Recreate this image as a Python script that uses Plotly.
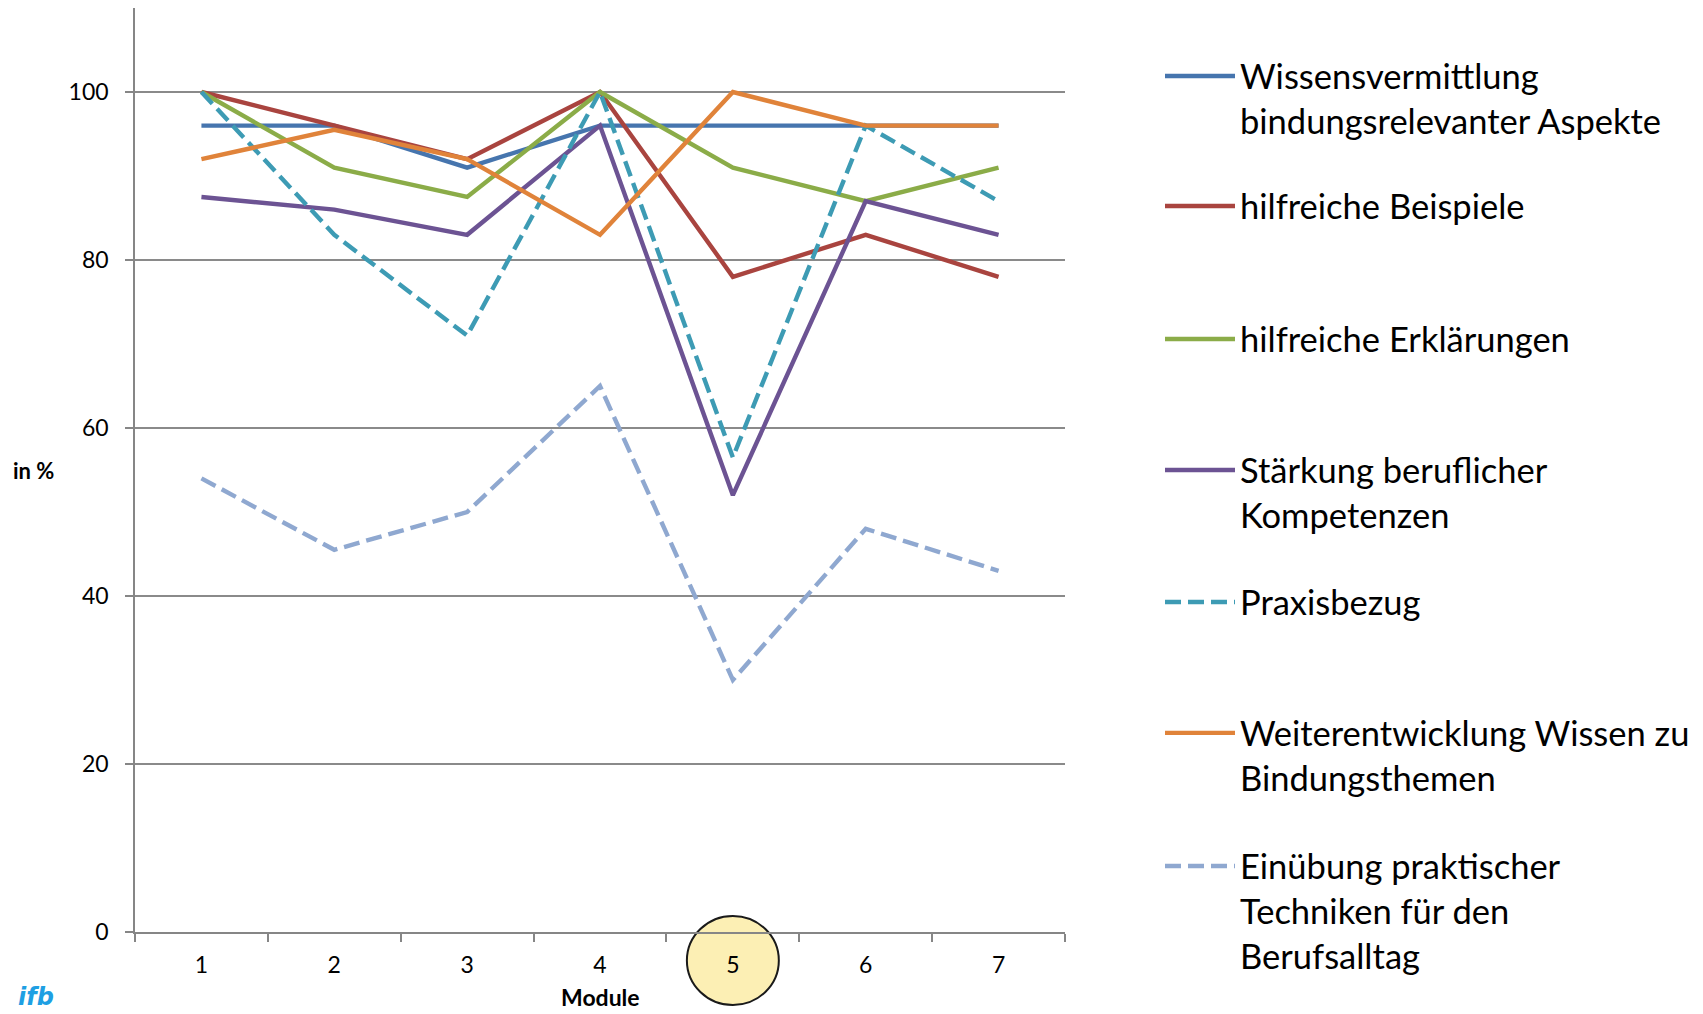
import plotly.graph_objects as go

modules = ["1", "2", "3", "4", "5", "6", "7"]

series_names = [
    "Wissensvermittlung<br>bindungsrelevanter Aspekte",
    "hilfreiche Beispiele",
    "hilfreiche Erklärungen",
    "Stärkung beruflicher<br>Kompetenzen",
    "Praxisbezug",
    "Weiterentwicklung Wissen zu<br>Bindungsthemen",
    "Einübung praktischer<br>Techniken für den<br>Berufsalltag",
]

wissensvermittlung = [96, 96, 91, 96, 96, 96, 96]
beispiele = [100, 96, 92, 100, 78, 83, 78]
erklaerungen = [100, 91, 87.5, 100, 91, 87, 91]
kompetenzen = [87.5, 86, 83, 96, 52, 87, 83]
praxisbezug = [100, 83, 71, 100, 56.5, 96, 87]
weiterentwicklung = [92, 95.5, 92, 83, 100, 96, 96]
einuebung = [54, 45.5, 50, 65, 30, 48, 43]

series_values = [wissensvermittlung, beispiele, erklaerungen, kompetenzen,
                 praxisbezug, weiterentwicklung, einuebung]
colors = ["#4675AE", "#A9443F", "#8BAC48", "#6C5393", "#3D9BB4", "#E0833A", "#8FA8D0"]
dashes = ["solid", "solid", "solid", "solid", "16px,7px", "solid", "16px,7px"]

y_ticks = [0, 20, 40, 60, 80, 100]

# legend first-line centre positions (page px) for each entry
legend_first_line_px = [76, 206, 339, 470, 602, 733, 866]

W, H = 1703, 1014
ML, MR, MT, MB = 135, 638, 8, 82
PW, PH = W - ML - MR, H - MT - MB

fig = go.Figure()
for i, (name, vals, col, dsh) in enumerate(zip(series_names, series_values, colors, dashes)):
    lg = "legend" if i == 0 else f"legend{i+1}"
    fig.add_trace(go.Scatter(
        x=modules, y=vals, mode="lines", name=name,
        line=dict(color=col, width=4.4, dash=dsh),
        legend=lg, hoverinfo="x+y+name",
    ))

font_family = "Lato, 'Open Sans', sans-serif"
legend_common = dict(
    xanchor="left", yanchor="top", bgcolor="rgba(0,0,0,0)", borderwidth=0,
    font=dict(family=font_family, size=34.5, color="#000000"),
    valign="top", itemwidth=70, tracegroupgap=0,
)
layout_legends = {}
for i, cy in enumerate(legend_first_line_px):
    key = "legend" if i == 0 else f"legend{i+1}"
    top_px = cy - 29
    layout_legends[key] = dict(
        legend_common,
        x=(1160 - ML) / PW,
        y=(H - MB - top_px) / PH,
    )

fig.update_layout(
    width=W, height=H,
    margin=dict(l=ML, r=MR, t=MT, b=MB, autoexpand=False),
    paper_bgcolor="white", plot_bgcolor="white",
    font=dict(family=font_family, color="#000000"),
    showlegend=True,
    **layout_legends,
    xaxis=dict(
        type="category", range=[-0.5, 6.5], automargin=False,
        showline=True, linecolor="#868686", linewidth=1.5,
        ticks="outside", tickson="boundaries", ticklen=8, tickcolor="#868686", tickwidth=1.5,
        showgrid=False, zeroline=False,
        tickfont=dict(size=23, family=font_family, color="#000000"),
        ticklabelstandoff=12,
    ),
    yaxis=dict(
        range=[0, 110], tickvals=y_ticks, automargin=False,
        showline=True, linecolor="#868686", linewidth=1.5,
        ticks="outside", ticklen=8, tickcolor="#868686", tickwidth=1.5,
        showgrid=True, gridcolor="#8A8A8A", gridwidth=1.5, zeroline=False,
        tickfont=dict(size=23, family=font_family, color="#000000"),
        ticklabelstandoff=12,
    ),
    shapes=[dict(
        type="circle", layer="below",
        xref="x", yref="paper",
        x0=4 - 0.346, x1=4 + 0.346,
        y0=(H - MB - 1005) / PH, y1=(H - MB - 916) / PH,
        fillcolor="#FCEFB4", line=dict(color="#1A1A1A", width=2),
    )],
    annotations=[
        dict(text="<b>Module</b>", xref="paper", yref="paper",
             x=0.5, y=(H - MB - 1013) / PH, xanchor="center", yanchor="bottom",
             showarrow=False, font=dict(size=23, family=font_family, color="#000000")),
        dict(text="<b>in %</b>", xref="paper", yref="paper",
             x=(11 - ML) / PW, y=(H - MB - 470) / PH, xanchor="left", yanchor="middle",
             showarrow=False, font=dict(size=22, family=font_family, color="#000000")),
        dict(text="<b><i>ifb</i></b>", xref="paper", yref="paper",
             x=(16 - ML) / PW, y=(H - MB - 1013) / PH, xanchor="left", yanchor="bottom",
             showarrow=False, font=dict(size=24, family="'DejaVu Sans', sans-serif", color="#1E9FE3")),
    ],
)

fig.write_html("out.html")
